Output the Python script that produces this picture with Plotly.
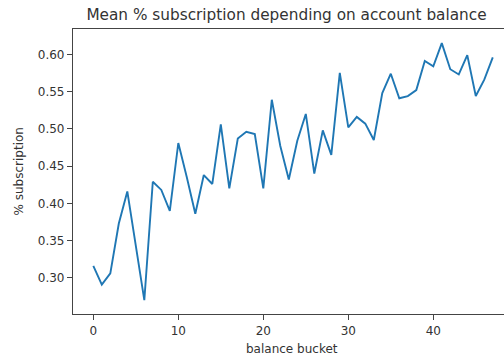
import plotly.graph_objects as go

# Mean subscription rate for each account-balance bucket
buckets = list(range(48))
mean_subscription = [
    0.316, 0.291, 0.306, 0.373, 0.416, 0.342, 0.270, 0.429, 0.418, 0.390,
    0.481, 0.435, 0.386, 0.438, 0.426, 0.506, 0.420, 0.487, 0.496, 0.493,
    0.420, 0.539, 0.477, 0.432, 0.484, 0.520, 0.440, 0.498, 0.465, 0.575,
    0.502, 0.516, 0.507, 0.485, 0.548, 0.574, 0.541, 0.544, 0.552, 0.591,
    0.584, 0.615, 0.580, 0.573, 0.599, 0.544, 0.566, 0.596,
]
x_ticks = [0, 10, 20, 30, 40]
y_ticks = [0.30, 0.35, 0.40, 0.45, 0.50, 0.55, 0.60]

title_text = "Mean % subscription depending on account balance"
x_label = "balance bucket"
y_label = "% subscription"

FONT = "DejaVu Sans"
TEXT = "#333333"
AXIS = "#444444"

fig = go.Figure(
    go.Scatter(
        x=buckets,
        y=mean_subscription,
        mode="lines",
        line=dict(color="#1f77b4", width=1.9),
        hoverinfo="skip",
    )
)

fig.update_layout(
    width=504,
    height=361,
    margin=dict(l=73, r=0, t=29, b=47),
    paper_bgcolor="white",
    plot_bgcolor="white",
    showlegend=False,
    font=dict(family=FONT, size=12, color=TEXT),
    title=dict(
        text=title_text,
        font=dict(family=FONT, size=15.3, color=TEXT),
        xref="container", x=286.5 / 504, xanchor="center",
        yref="container", y=1 - 15 / 361, yanchor="middle",
    ),
    annotations=[
        dict(
            text=x_label, xref="paper", yref="paper",
            x=0.508, y=-(349 - 314.3) / 285.3,
            xanchor="center", yanchor="middle", showarrow=False,
            font=dict(family=FONT, size=12, color=TEXT),
        ),
        dict(
            text=y_label, xref="paper", yref="paper",
            x=-(73 - 18) / 431, y=0.5,
            xanchor="center", yanchor="middle", showarrow=False,
            textangle=-90,
            font=dict(family=FONT, size=12, color=TEXT),
        ),
    ],
)

fig.update_xaxes(
    range=[-2.39, 48.32],
    tickvals=x_ticks,
    ticks="outside", ticklen=5, tickcolor=AXIS, tickwidth=1,
    showline=True, linecolor=AXIS, linewidth=1.2, mirror=True,
    showgrid=False, zeroline=False,
    tickfont=dict(family=FONT, size=12, color=TEXT),
)
fig.update_yaxes(
    range=[0.2515, 0.634],
    tickvals=y_ticks,
    tickformat=".2f",
    ticks="outside", ticklen=5, tickcolor=AXIS, tickwidth=1,
    showline=True, linecolor=AXIS, linewidth=1.2,
    showgrid=False, zeroline=False,
    tickfont=dict(family=FONT, size=12, color=TEXT),
)

fig.write_html("out.html")
